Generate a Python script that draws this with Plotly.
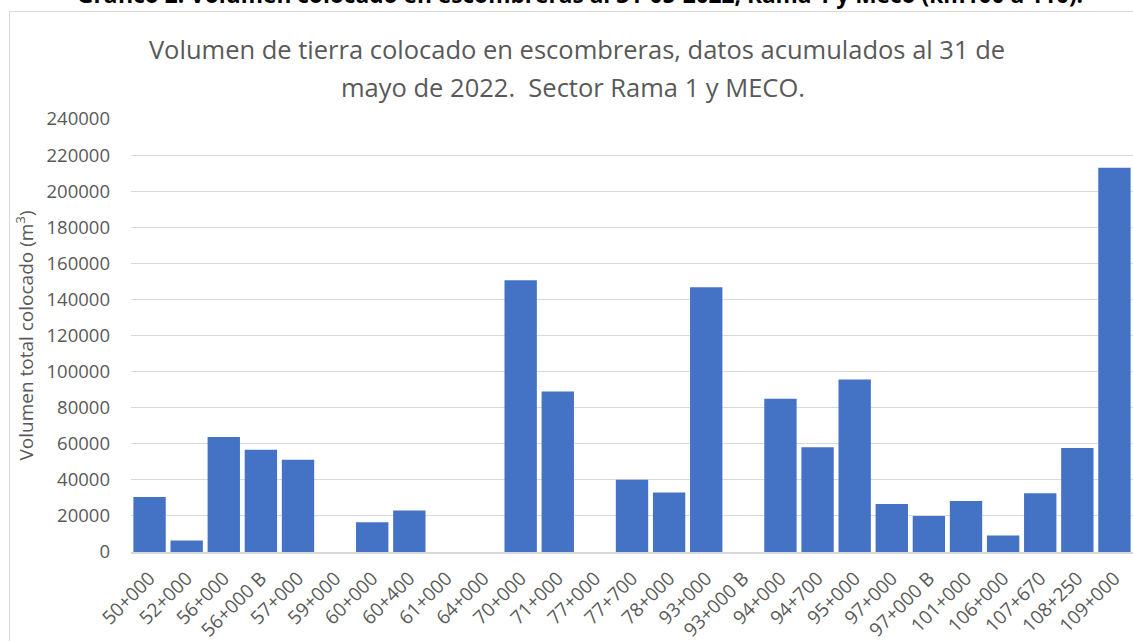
import plotly.graph_objects as go

categories = ["50+000", "52+000", "56+000", "56+000 B", "57+000", "59+000", "60+000",
              "60+400", "61+000", "64+000", "70+000", "71+000", "77+000", "77+700",
              "78+000", "93+000", "93+000 B", "94+000", "94+700", "95+000", "97+000",
              "97+000 B", "101+000", "106+000", "107+670", "108+250", "109+000"]
volumen = [30500, 6400, 63800, 56700, 51100, 0, 16500,
           23000, 0, 0, 150600, 89000, 0, 40000,
           33000, 146800, 0, 85000, 58000, 95600, 26600,
           20000, 28300, 9200, 32500, 57700, 213000]
y_ticks = list(range(0, 240001, 20000))

heading = "Gráfico 2. Volumen colocado en escombreras al 31-05-2022, Rama 1 y Meco (km100 a 110)."
title_line1 = "Volumen de tierra colocado en escombreras, datos acumulados al 31 de"
title_line2 = "mayo de 2022.  Sector Rama 1 y MECO."
y_title = "Volumen total colocado (m<sup>3</sup>)"

W, H = 1133, 641
L, R, T, B = 131, 0, 119, 89
ph = H - T - B
pw = W - L - R

def px_y(p):
    return (H - B - p) / ph

def px_x(p):
    return (p - L) / pw

FONT = "Open Sans"
GRAY = "#595959"

fig = go.Figure(go.Bar(
    x=categories, y=volumen,
    marker=dict(color="#4472C4", line=dict(width=0)),
))

fig.update_layout(
    width=W, height=H,
    margin=dict(l=L, r=R, t=T, b=B, autoexpand=False),
    paper_bgcolor="white", plot_bgcolor="white",
    bargap=0.128,
    showlegend=False,
    font=dict(family=FONT, color=GRAY),
    title=dict(text=title_line1, font=dict(family=FONT, size=25.5, color=GRAY),
               xref="container", x=577 / W, xanchor="center",
               yref="container", y=1 - 50 / H, yanchor="middle"),
    xaxis=dict(
        type="category", tickangle=-45, tickfont=dict(size=19, color=GRAY),
        showgrid=False, showline=True, linecolor="#d9d9d9", linewidth=1.5,
        ticks="", ticklabelstandoff=6,
    ),
    yaxis=dict(
        range=[0, 240000], tickvals=y_ticks, tickformat="d",
        tickfont=dict(size=18.5, color=GRAY),
        showgrid=True, gridcolor="#d9d9d9", gridwidth=1, zeroline=False,
        showline=False, ticks="", ticklabelstandoff=20,
        title=dict(text=y_title, font=dict(size=19, color=GRAY), standoff=7),
    ),
    annotations=[
        dict(text=title_line2, xref="paper", yref="paper", x=px_x(573), y=px_y(87),
             xanchor="center", yanchor="middle", showarrow=False,
             font=dict(family=FONT, size=25.5, color=GRAY)),
        dict(text="<b>" + heading + "</b>", xref="paper", yref="paper",
             x=px_x(580), y=px_y(12), xanchor="center", yanchor="bottom",
             showarrow=False, font=dict(family=FONT, size=22.7, color="black")),
    ],
    shapes=[
        dict(type="rect", xref="paper", yref="paper",
             x0=px_x(9.5), x1=px_x(W + 20), y0=px_y(H + 20), y1=px_y(11.5),
             line=dict(color="#d9d9d9", width=1), fillcolor="rgba(0,0,0,0)", layer="below"),
    ],
)

fig.write_html(
    "out.html",
    config={"displayModeBar": False},
    post_script="document.body.style.margin='0';document.body.style.overflow='hidden';",
)
